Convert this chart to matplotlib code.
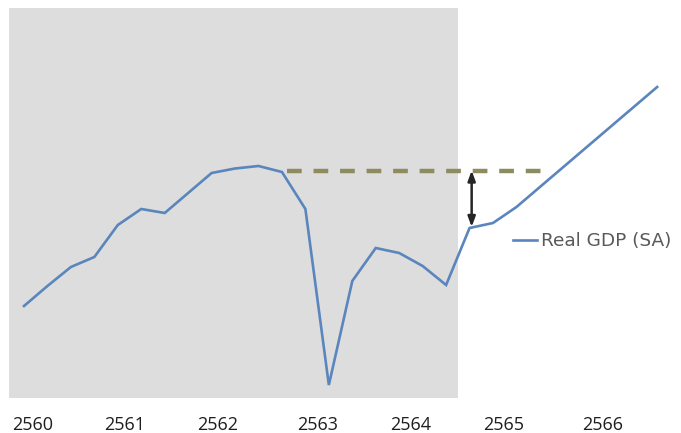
import matplotlib
matplotlib.use("Agg")
import matplotlib.pyplot as plt

# ---- data (quarterly index, 2560Q1 = 100) ----
quarters = list(range(28))
gdp_sa = [100.0, 102.0, 103.9, 104.9, 108.1, 109.7, 109.3, 111.3,
          113.3, 113.75, 114.0, 113.4, 109.7, 92.1, 102.5, 105.8,
          105.3, 104.0, 102.1, 107.8, 108.3, 109.9, 111.9, 113.9,
          115.9, 117.9, 119.9, 121.9]
year_labels = ["2560", "2561", "2562", "2563", "2564", "2565", "2566"]
pre_covid_level = 113.55
current_level = 107.9

# ---- layout ----
year_label_pos = [0.38, 4.31, 8.27, 12.54, 16.5, 20.47, 24.69]
xlim = (-1.0235, 28.017)
ylim = (90.8, 130.6)
shade_x = (-0.64, 18.52)
shade_top = 129.8
dash_x = (11.22, 22.05)
arrow_x = 19.09

plt.rcParams["font.family"] = ["Open Sans", "DejaVu Sans"]

fig = plt.figure(figsize=(6.81, 4.33), dpi=100)
ax = fig.add_axes([0, 35 / 433, 1, 398 / 433])
ax.set_xlim(*xlim)
ax.set_ylim(*ylim)

ax.axvspan(shade_x[0], shade_x[1], ymin=0,
           ymax=(shade_top - ylim[0]) / (ylim[1] - ylim[0]),
           color="#dddddd", lw=0, zorder=0)

line, = ax.plot(quarters, gdp_sa, color="#5b85bd", lw=1.9,
                solid_joinstyle="miter", zorder=3, label="Real GDP (SA)")

dash_lw = 3.2
ax.plot(dash_x, [pre_covid_level, pre_covid_level], color="#8e8c5e",
        lw=dash_lw, dashes=(10.6 / dash_lw, 8.5 / dash_lw),
        solid_capstyle="butt", dash_capstyle="butt", zorder=2)

ax.annotate("", xy=(arrow_x, current_level), xytext=(arrow_x, pre_covid_level),
            arrowprops=dict(arrowstyle="<|-|>,head_length=0.6,head_width=0.22",
                            color="#262626", lw=1.8, shrinkA=0, shrinkB=0),
            zorder=4)

ax.set_xticks(year_label_pos)
ax.set_xticklabels(year_labels, fontsize=13, color="#1e1e1e")
ax.tick_params(axis="x", length=0, pad=13)
ax.set_yticks([])
for s in ax.spines.values():
    s.set_visible(False)

leg = fig.legend(handles=[line], loc="center left",
                 bbox_to_anchor=(513 / 681, (433 - 241) / 433),
                 frameon=False, handlelength=1.3,
                 handletextpad=0.2, borderpad=0, borderaxespad=0,
                 prop={"family": "DejaVu Sans", "size": 13.3})
for t in leg.get_texts():
    t.set_color("#595959")

fig.savefig("out.png", dpi=100)
